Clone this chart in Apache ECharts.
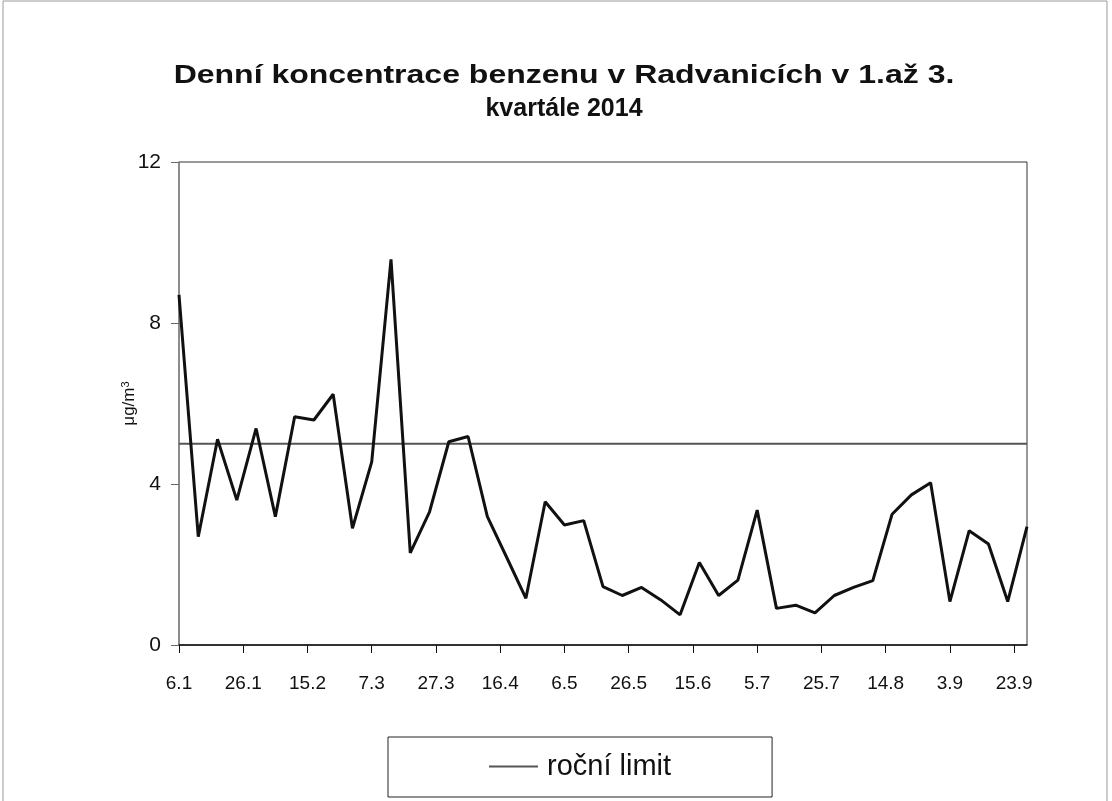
<!DOCTYPE html>
<html><head><meta charset="utf-8">
<script src="https://cdn.jsdelivr.net/npm/echarts@6/dist/echarts.min.js"></script>
<style>html,body{margin:0;padding:0;background:#fff}#c{width:1112px;height:801px}</style>
</head><body><div id="c"></div>
<script>
const sampleDates = [
  '2014-01-06','2014-01-12','2014-01-18','2014-01-24','2014-01-30',
  '2014-02-05','2014-02-11','2014-02-17','2014-02-23',
  '2014-03-01','2014-03-07','2014-03-13','2014-03-19','2014-03-25','2014-03-31',
  '2014-04-06','2014-04-12','2014-04-18','2014-04-24','2014-04-30',
  '2014-05-06','2014-05-12','2014-05-18','2014-05-24','2014-05-30',
  '2014-06-05','2014-06-11','2014-06-17','2014-06-23','2014-06-29',
  '2014-07-05','2014-07-11','2014-07-17','2014-07-23','2014-07-29',
  '2014-08-04','2014-08-10','2014-08-16','2014-08-22','2014-08-28',
  '2014-09-03','2014-09-09','2014-09-15','2014-09-21','2014-09-27'
];
const benzene = [
  8.70, 2.69, 5.11, 3.60, 5.38, 3.19, 5.67, 5.59, 6.23, 2.90,
  4.55, 9.58, 2.29, 3.31, 5.05, 5.18, 3.19, 2.18, 1.16, 3.56,
  2.98, 3.09, 1.45, 1.23, 1.43, 1.12, 0.75, 2.05, 1.23, 1.61,
  3.35, 0.91, 0.99, 0.80, 1.23, 1.43, 1.60, 3.25, 3.73, 4.03,
  1.08, 2.84, 2.51, 1.08, 2.94
];
const tickLabels = ['6.1','26.1','15.2','7.3','27.3','16.4','6.5','26.5','15.6','5.7','25.7','14.8','3.9','23.9'];
const tickStepDays = 20;
const limitValue = 5;
const limitName = 'roční limit';
const titleLine1 = 'Denní koncentrace benzenu v Radvanicích v 1.až 3.';
const titleLine2 = 'kvartále 2014';

const DAY = 86400000;
const t0 = Date.parse(sampleDates[0]);
const offsets = sampleDates.map(d => Math.round((Date.parse(d) - t0) / DAY));
const lastOffset = offsets[offsets.length - 1];
const lineData = offsets.map((o, i) => [o, benzene[i]]);
const limitData = [[0, limitValue], [lastOffset, limitValue]];
const FONT = '"Liberation Sans", Arial, sans-serif';
const titleFont = 'bold 25px "Liberation Sans", Arial, sans-serif';

const chart = echarts.init(document.getElementById('c'), null, {renderer: 'canvas'});
chart.setOption({
  backgroundColor: '#fff',
  animation: false,
  textStyle: {fontFamily: FONT},
  graphic: [
    {
      type: 'rect', silent: true, z: -1,
      shape: {x: 3, y: 1, width: 1104, height: 812},
      style: {fill: 'none', stroke: '#9a9a9a', lineWidth: 1}
    },
    {
      type: 'text', silent: true, x: 564, y: 76, scaleX: 1.28,
      style: {text: titleLine1, font: titleFont, fill: '#111', align: 'center', verticalAlign: 'middle'}
    },
    {
      type: 'text', silent: true, x: 564, y: 109,
      style: {text: titleLine2, font: titleFont, fill: '#111', align: 'center', verticalAlign: 'middle'}
    }
  ],
  legend: {
    data: [limitName],
    icon: 'rect',
    left: 388, top: 737,
    padding: [15, 101, 16, 101],
    borderColor: '#222', borderWidth: 1, borderRadius: 0,
    itemWidth: 49, itemHeight: 2, itemGap: 8,
    textStyle: {fontFamily: FONT, fontSize: 29, color: '#111', padding: [0, 0, 0, 4]}
  },
  grid: {
    left: 179, right: 85, top: 162, bottom: 156,
    show: true, borderColor: '#333', borderWidth: 1, backgroundColor: 'transparent'
  },
  xAxis: {
    type: 'value', min: 0, max: lastOffset, interval: tickStepDays,
    splitLine: {show: false},
    axisLine: {lineStyle: {color: '#111', width: 1.5}},
    axisTick: {length: 8, lineStyle: {color: '#111'}},
    axisLabel: {
      fontFamily: FONT, fontSize: 19, color: '#111', margin: 29,
      showMaxLabel: false,
      formatter: v => (v % tickStepDays === 0 ? (tickLabels[v / tickStepDays] || '') : '')
    }
  },
  yAxis: {
    type: 'value', min: 0, max: 12, interval: 4,
    name: '{u|μg/m}{s|3}', nameLocation: 'middle', nameGap: 40, nameRotate: 90,
    nameMoveOverlap: false,
    nameTextStyle: {
      rich: {
        u: {fontFamily: FONT, fontSize: 17, color: '#111'},
        s: {fontFamily: FONT, fontSize: 11, color: '#111', verticalAlign: 'top', padding: [0, 0, 8, 0]}
      }
    },
    splitLine: {show: false},
    axisLine: {show: true, lineStyle: {color: '#888', width: 1.5}},
    axisTick: {show: true, length: 8, lineStyle: {color: '#666'}},
    axisLabel: {fontFamily: FONT, fontSize: 21, color: '#111', margin: 18}
  },
  series: [
    {
      name: limitName, type: 'line', data: limitData,
      symbol: 'none', silent: true, z: 2,
      lineStyle: {color: '#555', width: 2}, itemStyle: {color: '#555'}
    },
    {
      name: 'benzen', type: 'line', data: lineData,
      symbol: 'none', z: 3,
      lineStyle: {color: '#111', width: 3}, itemStyle: {color: '#111'}
    }
  ]
});
</script></body></html>
